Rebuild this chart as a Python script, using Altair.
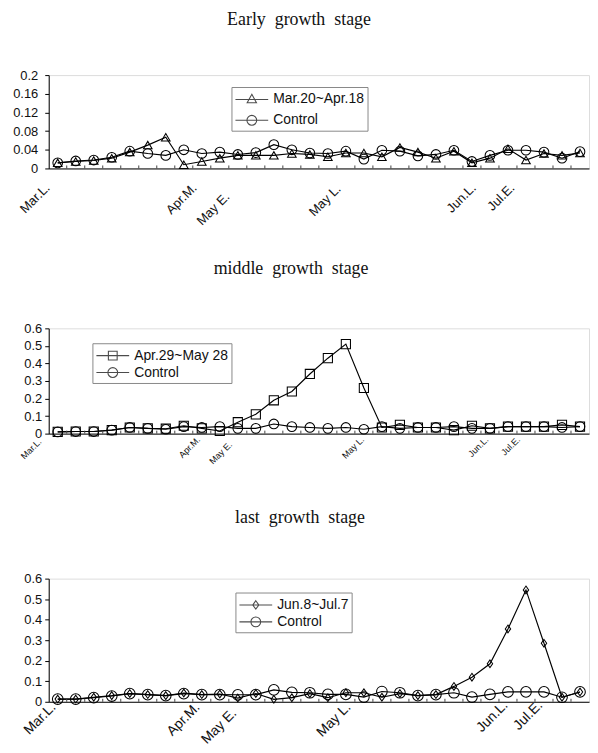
import altair as alt
import pandas as pd

idx = list(range(30))

# ---- data ----
titles = ["Early\u2002growth\u2002stage", "middle\u2002growth\u2002stage", "last\u2002growth\u2002stage"]
treat_names = ["Mar.20~Apr.18", "Apr.29~May 28", "Jun.8~Jul.7"]

treat1 = [0.012, 0.015, 0.017, 0.022, 0.035, 0.050, 0.067, 0.008, 0.015, 0.022,
          0.028, 0.028, 0.028, 0.032, 0.030, 0.025, 0.033, 0.033, 0.025, 0.045,
          0.035, 0.022, 0.037, 0.012, 0.022, 0.042, 0.018, 0.032, 0.028, 0.033]
ctrl1 = [0.012, 0.016, 0.018, 0.024, 0.037, 0.032, 0.028, 0.040, 0.032, 0.035,
         0.030, 0.034, 0.051, 0.040, 0.033, 0.032, 0.037, 0.020, 0.039, 0.037,
         0.027, 0.030, 0.039, 0.015, 0.028, 0.039, 0.039, 0.035, 0.022, 0.036]

treat2 = [0.010, 0.012, 0.012, 0.020, 0.035, 0.030, 0.028, 0.045, 0.030, 0.015,
          0.065, 0.110, 0.190, 0.240, 0.340, 0.430, 0.510, 0.260, 0.035, 0.050,
          0.035, 0.035, 0.020, 0.045, 0.030, 0.040, 0.040, 0.040, 0.050, 0.040]
ctrl2 = [0.010, 0.012, 0.012, 0.020, 0.035, 0.030, 0.025, 0.040, 0.035, 0.040,
         0.030, 0.030, 0.055, 0.040, 0.035, 0.030, 0.035, 0.025, 0.040, 0.030,
         0.035, 0.035, 0.040, 0.030, 0.030, 0.040, 0.040, 0.040, 0.035, 0.040]

treat3 = [0.013, 0.013, 0.022, 0.030, 0.040, 0.035, 0.030, 0.043, 0.035, 0.038,
          0.018, 0.040, 0.012, 0.020, 0.040, 0.020, 0.044, 0.044, 0.022, 0.040,
          0.030, 0.035, 0.075, 0.120, 0.185, 0.355, 0.545, 0.285, 0.022, 0.048]
ctrl3 = [0.013, 0.013, 0.020, 0.028, 0.040, 0.035, 0.030, 0.040, 0.035, 0.035,
         0.034, 0.035, 0.058, 0.046, 0.044, 0.036, 0.036, 0.023, 0.050, 0.044,
         0.030, 0.035, 0.044, 0.023, 0.036, 0.048, 0.048, 0.048, 0.022, 0.048]

xlabel_text = ["Mar.L.", "Apr.M.", "May E.", "May L.", "Jun.L.", "Jul.E."]
xlabel_pos1 = [-0.5, 7.58, 9.40, 15.58, 23.08, 25.23]
xlabel_pos2 = [-0.5, 7.80, 9.57, 16.90, 23.80, 25.56]
xlabel_pos3 = [-0.25, 7.75, 9.79, 16.13, 24.85, 26.78]
xlabel_shift1 = [-1.5, 0, 0, 0, 0, 0]
xlabel_shift2 = [-9.4, 0, 0, 0, 0, 0]
xlabel_shift3 = [0, 0, 0, 0, 0, 0]
xlabel_drop1 = [17, 17, 26, 18, 17, 17]
xlabel_drop2 = [6, 4, 9, 4, 4, 4]
xlabel_drop3 = [3, 3, 9, 3, 1, 1]

y_ticks1 = [0, 0.04, 0.08, 0.12, 0.16, 0.2]
y_ticks2 = [0, 0.1, 0.2, 0.3, 0.4, 0.5, 0.6]

FONT = "Liberation Sans"
SERIF = "Liberation Serif"
INK = "#111111"

LINE = "M-1.94,0H1.94"
leg_tri = LINE + "M0,-0.6L0.55,0.4L-0.55,0.4Z"
leg_circ = LINE + "M-0.58,0A0.58,0.58 0 1,1 0.58,0A0.58,0.58 0 1,1 -0.58,0Z"
leg_sq = LINE + "M-0.52,-0.52H0.52V0.52H-0.52Z"
leg_dia = LINE + "M0,-0.5L0.36,0L0,0.5L-0.36,0Z"
thin_diamond = "M0,-1L0.7,0L0,1L-0.7,0Z"


def cond_expr(pos, vals, default):
    e = str(default)
    for p, v in reversed(list(zip(pos, vals))):
        e = f"abs(datum.value - ({p})) < 0.01 ? {v} : ({e})"
    return e


def label_expr(pos, txt):
    e = "''"
    for p, t in reversed(list(zip(pos, txt))):
        e = f"abs(datum.value - ({p})) < 0.01 ? '{t}' : ({e})"
    return e


def panel(title, tdx, toff, tname, treat, ctrl, ymax, yvals, yfmt, ypad, height,
          xpos, xshift, xdrop, xfs, tshape, tsize, csize, tleg, lx, ly, lrow):
    df = pd.DataFrame({
        "i": idx + idx,
        "v": treat + ctrl,
        "s": [tname] * 30 + ["Control"] * 30,
    })
    dom = [tname, "Control"]
    x = alt.X("i:Q", scale=alt.Scale(domain=[-0.5, 29.5], nice=False, zero=False),
              axis=alt.Axis(values=xpos, labelExpr=label_expr(xpos, xlabel_text),
                            labelAngle=-45, labelAlign="right", labelBaseline="middle",
                            labelFontSize=xfs, labelFont=FONT, labelColor=INK,
                            labelOverlap=False, labelFlush=False,
                            labelPadding={"expr": cond_expr(xpos, xdrop, 4)},
                            labelOffset={"expr": cond_expr(xpos, xshift, 0)},
                            ticks=False, domainColor="black", domainWidth=1, grid=False,
                            title=None))
    y = alt.Y("v:Q", scale=alt.Scale(domain=[0, ymax], nice=False),
              axis=alt.Axis(values=yvals, format=yfmt, labelFontSize=13,
                            labelFont=FONT, labelColor=INK, tickSize=4,
                            tickColor="black", domainColor="black", labelPadding=ypad,
                            minExtent=40, maxExtent=40, grid=False, title=None))
    base = alt.Chart(df)
    ticks = alt.Chart(pd.DataFrame({"i": idx[:-1]})).transform_calculate(
        b="datum.i + 0.5").mark_rule(color="#444444", strokeWidth=1).encode(
        x=alt.X("b:Q", scale=alt.Scale(domain=[-0.5, 29.5], nice=False, zero=False)),
        y=alt.value(height), y2=alt.value(height - 3))
    line = base.mark_line(color="black", strokeWidth=1.15).encode(x=x, y=y, detail="s:N")
    pts = base.mark_point(filled=False, stroke="black", strokeWidth=1.05, opacity=1).encode(
        x=x, y=y,
        shape=alt.Shape("s:N", scale=alt.Scale(domain=dom, range=[tshape, "circle"]), legend=None),
        size=alt.Size("s:N", scale=alt.Scale(domain=dom, range=[tsize, csize]), legend=None),
    )
    leg = base.transform_filter("false").transform_calculate(s2="datum.s").mark_point(
        filled=False, stroke="black", strokeWidth=1).encode(
        x=x, y=y,
        shape=alt.Shape("s2:N", scale=alt.Scale(domain=dom, range=[tleg, leg_circ]),
                        legend=alt.Legend(title=None, orient="none", legendX=lx, legendY=ly,
                                          direction="vertical", symbolSize=289,
                                          symbolStrokeColor="black", symbolStrokeWidth=1.1,
                                          symbolOffset=8, labelOffset=12,
                                          labelFont=FONT, labelFontSize=14, labelColor=INK,
                                          padding=3, rowPadding=lrow, strokeColor="#888888",
                                          fillColor="white", cornerRadius=0)),
    )
    return alt.layer(line, pts, ticks, leg).resolve_scale(shape="independent", size="independent").properties(
        width=544, height=height,
        title=alt.TitleParams(title, font=SERIF, fontSize=18, fontWeight="normal",
                              anchor="middle", offset=toff, color=INK, dx=tdx),
    )


p1 = panel(titles[0], -20, 40, treat_names[0], treat1, ctrl1, 0.2, y_ticks1, ".2~f", 7, 94,
           xlabel_pos1, xlabel_shift1, xlabel_drop1, 13, "triangle-up", 75, 95, leg_tri, 184, 12, 4)
p2 = panel(titles[1], -28, 45, treat_names[1], treat2, ctrl2, 0.6, y_ticks2, ".1~f", 3, 106,
           xlabel_pos2, xlabel_shift2, xlabel_drop2, 9, "square", 85, 95, leg_sq, 44, 15, 0)
p3 = panel(titles[2], -19, 46, treat_names[2], treat3, ctrl3, 0.6, y_ticks2, ".1~f", 3, 124,
           xlabel_pos3, xlabel_shift3, xlabel_drop3, 14, thin_diamond, 60, 115, leg_dia, 188, 14, 0)

top_two = alt.vconcat(p1, p2, spacing=30)
chart = alt.vconcat(top_two, p3, spacing=42).properties(
    padding={"left": 0, "top": 0, "right": 0, "bottom": 0}
).configure_view(stroke="#888888", strokeWidth=1).configure(background="white")

chart.save("out.html", embed_options={"renderer": "svg", "actions": False})
